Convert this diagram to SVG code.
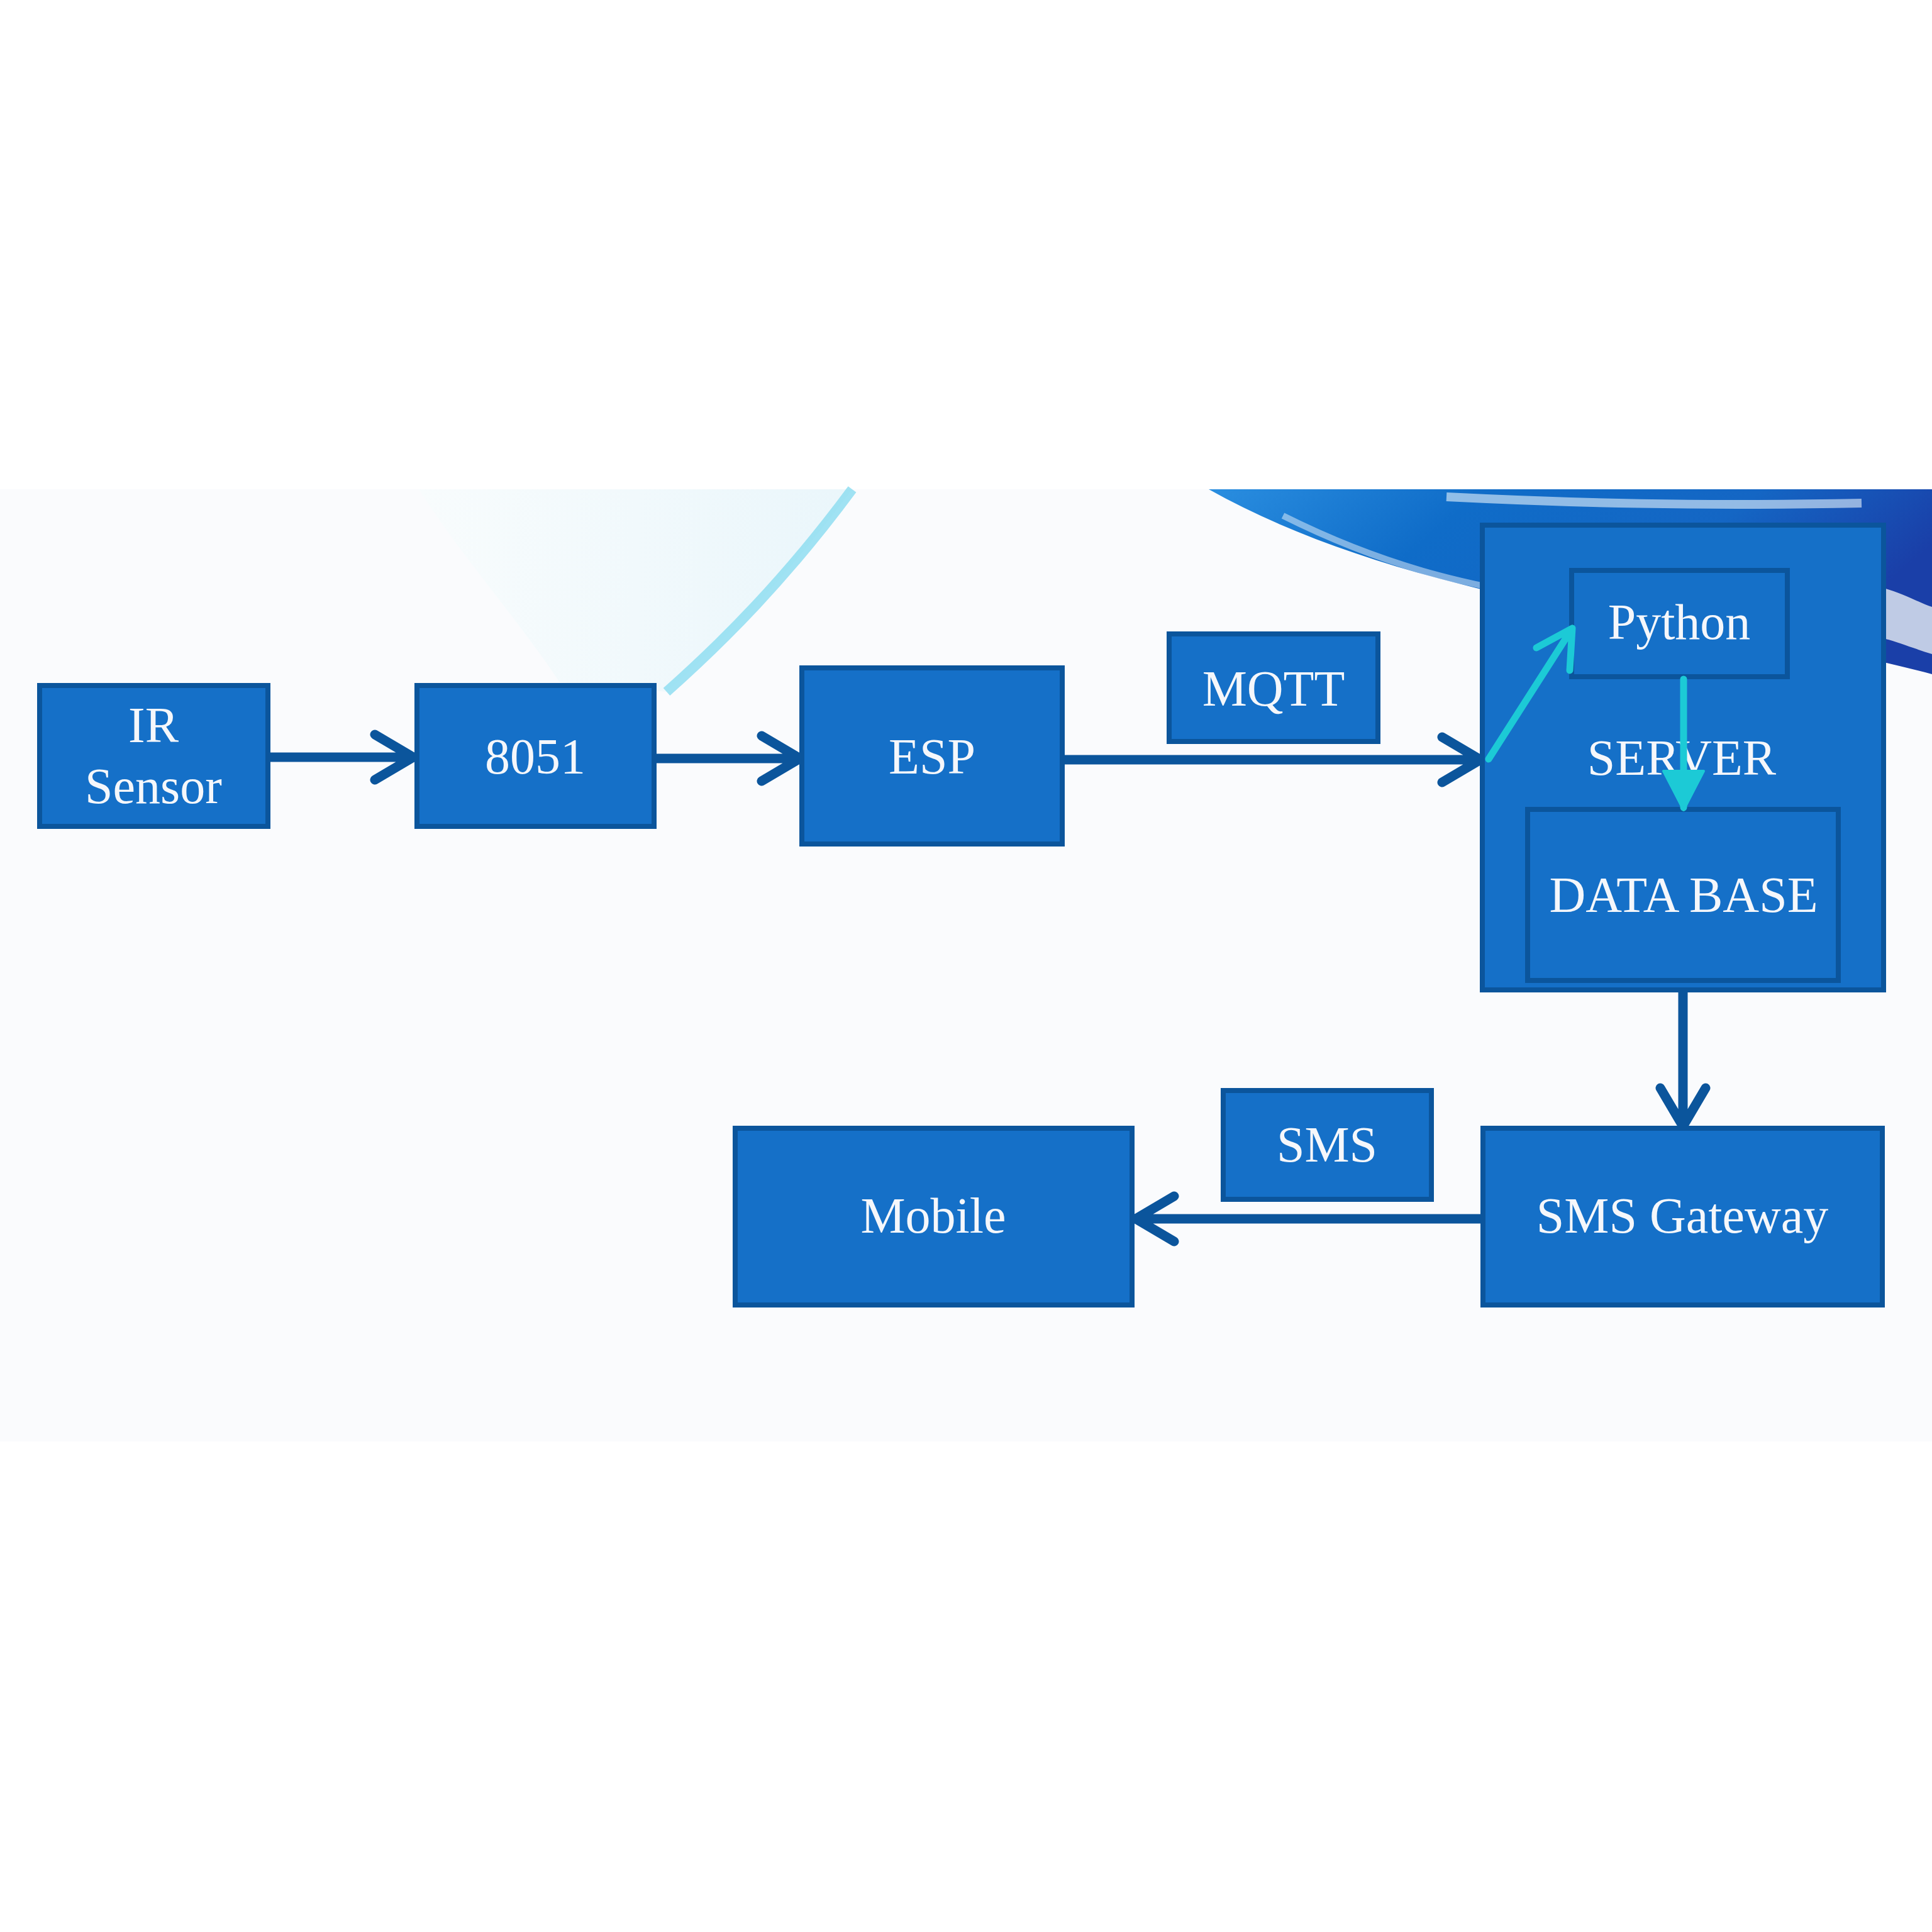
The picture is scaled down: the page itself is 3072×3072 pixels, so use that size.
<svg xmlns="http://www.w3.org/2000/svg" width="3072" height="3072" viewBox="0 0 3072 3072">
  <defs>
    <style>
      .box { fill: #1570c8; stroke: #0b559c; stroke-width: 8; }
      .lbl { font-family: "Liberation Serif", "DejaVu Serif", serif; font-size: 80px; fill: #f5f7fb; text-anchor: middle; }
      .conn { fill: none; stroke: #0b559c; stroke-width: 15; stroke-linecap: round; stroke-linejoin: round; }
      .cyan { fill: none; stroke: #1ccad6; stroke-width: 11; stroke-linecap: round; stroke-linejoin: round; }
    </style>
    <linearGradient id="swoosh" x1="0" y1="0" x2="1" y2="0.3">
      <stop offset="0" stop-color="#2a8ee0"/>
      <stop offset="0.35" stop-color="#0f6cc8"/>
      <stop offset="0.7" stop-color="#1466c4"/>
      <stop offset="1" stop-color="#1a3fa8"/>
    </linearGradient>
    <linearGradient id="lightsw" x1="0" y1="0" x2="1" y2="0">
      <stop offset="0" stop-color="#f8fcfd"/>
      <stop offset="1" stop-color="#eaf6fb"/>
    </linearGradient>
  </defs>

  <!-- background -->
  <rect x="0" y="0" width="3072" height="3072" fill="#ffffff"/>
  <rect x="0" y="778" width="3072" height="1514" fill="#fafbfd"/>
  <path d="M666,778 L1355,778 C1250,920 1150,1020 1060,1100 L890,1085 C820,980 730,880 666,778 Z" fill="url(#lightsw)"/>
  <path d="M1355,778 C1250,920 1150,1020 1060,1100" fill="none" stroke="#8adcf0" stroke-width="16" opacity="0.8"/>
  <path d="M1922,778 L3072,778 L3072,1072 C2950,1040 2800,1010 2650,985 C2520,965 2420,950 2368,940 C2200,900 2050,850 1922,778 Z" fill="url(#swoosh)"/>
  <path d="M2040,820 C2200,900 2330,930 2460,950" fill="none" stroke="#ffffff" stroke-width="10" opacity="0.45"/>
  <path d="M2300,790 C2500,800 2700,805 2960,800" fill="none" stroke="#e8f3fb" stroke-width="14" opacity="0.6"/>
  <path d="M2995,935 C3030,945 3055,960 3072,965 L3072,1040 C3040,1030 3015,1020 2995,1015 Z" fill="#dde4f0" opacity="0.85"/>

  <!-- connectors -->
  <g id="connectors">
    <path class="conn" d="M426,1204 L655,1204 M596,1168 L657,1204 L596,1240"/>
    <path class="conn" d="M1040,1206 L1270,1206 M1211,1170 L1272,1206 L1211,1242"/>
    <path class="conn" d="M1689,1208 L2352,1208 M2293,1172 L2354,1208 L2293,1244"/>
    <path class="conn" d="M2676,1574 L2676,1790 M2640,1730 L2676,1791 L2712,1730"/>
    <path class="conn" d="M2358,1938 L1806,1938 M1867,1902 L1806,1938 L1867,1974"/>
  </g>

  <!-- nodes -->
  <g id="ir-sensor">
    <rect class="box" x="63" y="1090" width="363" height="224"/>
    <text class="lbl" x="244" y="1180">IR</text>
    <text class="lbl" x="244" y="1277">Sensor</text>
  </g>
  <g id="n8051">
    <rect class="box" x="663" y="1090" width="377" height="224"/>
    <text class="lbl" x="851" y="1230">8051</text>
  </g>
  <g id="esp">
    <rect class="box" x="1275" y="1062" width="414" height="280"/>
    <text class="lbl" x="1482" y="1230">ESP</text>
  </g>
  <g id="mqtt">
    <rect class="box" x="1859" y="1008" width="332" height="171"/>
    <text class="lbl" x="2025" y="1122">MQTT</text>
  </g>
  <g id="server">
    <rect class="box" x="2357" y="835" width="638" height="739"/>
    <text class="lbl" x="2674" y="1232">SERVER</text>
  </g>
  <g id="python">
    <rect class="box" x="2499" y="907" width="343" height="169"/>
    <text class="lbl" x="2670" y="1016">Python</text>
  </g>
  <g id="database">
    <rect class="box" x="2429" y="1287" width="494" height="272"/>
    <text class="lbl" x="2677" y="1450">DATA BASE</text>
  </g>
  <g id="server-arrows">
    <path class="cyan" d="M2367,1207 L2500,999 M2443,1030 L2500,999 L2496,1066"/>
    <path class="cyan" d="M2677,1080 L2677,1284"/>
    <path d="M2645,1226 L2709,1226 L2677,1288 Z" fill="#1ccad6" stroke="#1ccad6" stroke-width="4" stroke-linejoin="round"/>
  </g>
  <g id="sms-gateway">
    <rect class="box" x="2358" y="1794" width="635" height="281"/>
    <text class="lbl" x="2675" y="1960">SMS Gateway</text>
  </g>
  <g id="mobile">
    <rect class="box" x="1169" y="1794" width="631" height="281"/>
    <text class="lbl" x="1484" y="1960">Mobile</text>
  </g>
  <g id="sms">
    <rect class="box" x="1945" y="1734" width="331" height="173"/>
    <text class="lbl" x="2110" y="1847">SMS</text>
  </g>
</svg>
